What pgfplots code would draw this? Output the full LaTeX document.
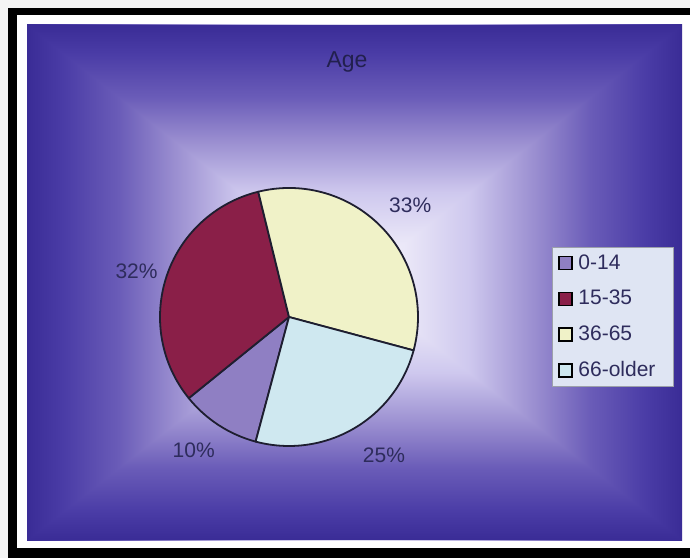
\documentclass[border=0pt]{standalone}
\usepackage{fontspec}
\setmainfont{Liberation Sans}
\usepackage{pgfplots}
\pgfplotsset{compat=1.18}
\definecolor{pagebg}{HTML}{F4F4F4}
\definecolor{g0}{HTML}{3A2C96}
\definecolor{g1}{HTML}{4A3CA6}
\definecolor{g2}{HTML}{6A5CB8}
\definecolor{g3}{HTML}{9A8ED0}
\definecolor{g4}{HTML}{CEC8EE}
\definecolor{g5}{HTML}{EBE8F8}
\definecolor{g6}{HTML}{F6F5FC}
\pgfdeclarehorizontalshading{bgH}{100bp}{color(0bp)=(g0); color(25bp)=(g0); color(27.75bp)=(g1); color(32bp)=(g2); color(36.25bp)=(g3); color(41.25bp)=(g4); color(46.25bp)=(g5); color(50bp)=(g6); color(53.75bp)=(g5); color(58.75bp)=(g4); color(63.75bp)=(g3); color(68bp)=(g2); color(72.25bp)=(g1); color(75bp)=(g0); color(100bp)=(g0)}
\pgfdeclareverticalshading{bgV}{100bp}{color(0bp)=(g0); color(25bp)=(g0); color(27.75bp)=(g1); color(32bp)=(g2); color(36.25bp)=(g3); color(41.25bp)=(g4); color(46.25bp)=(g5); color(50bp)=(g6); color(53.75bp)=(g5); color(58.75bp)=(g4); color(63.75bp)=(g3); color(68bp)=(g2); color(72.25bp)=(g1); color(75bp)=(g0); color(100bp)=(g0)}
\definecolor{cA}{HTML}{8F7FC3}
\definecolor{cB}{HTML}{8A1F48}
\definecolor{cC}{HTML}{F0F2C8}
\definecolor{cD}{HTML}{CFE8F0}
\definecolor{legbg}{HTML}{DFE5F3}
\definecolor{labtext}{HTML}{2E2C5C}
\definecolor{titletext}{HTML}{22204E}
\definecolor{pieline}{HTML}{1E1E30}
% data (percent): 0-14, 15-35, 36-65, 66-older
\def\vA{10}\def\vB{32}\def\vC{33}\def\vD{25}%
\def\pcx{289}\def\pcy{241}\def\pR{129}\def\pL{164}%
\pgfmathsetmacro\aA{255}%
\pgfmathsetmacro\aB{\aA-3.6*\vA}%
\pgfmathsetmacro\aC{\aB-3.6*\vB}%
\pgfmathsetmacro\aD{\aC-3.6*\vC}%
\pgfmathsetmacro\aE{\aD-3.6*\vD}%
\pgfmathsetmacro\mA{(\aA+\aB)/2}%
\pgfmathsetmacro\mB{(\aB+\aC)/2}%
\pgfmathsetmacro\mC{(\aC+\aD)/2}%
\pgfmathsetmacro\mD{(\aD+\aE)/2}%
\begin{document}%
\begin{tikzpicture}
\begin{axis}[hide axis, scale only axis, width=345pt, height=279pt,
  xmin=0, xmax=690, ymin=0, ymax=558, clip=false,
  legend style={at={(axis cs:552,311)}, anchor=north west, fill=legbg, draw=legbg!70!black,
    font=\fontsize{10.5}{12}\selectfont, text=labtext, row sep=6pt,
    nodes={inner sep=1.5pt}},
  legend cell align=left,
  legend image code/.code={\draw[#1, draw=black, line width=0.6pt] (0pt,-3.25pt) rectangle (6.5pt,3.25pt); \path (8pt,0pt);}]
% page and frame
\fill[pagebg] (axis cs:0,0) rectangle (axis cs:690,558);
\fill[black] (axis cs:8,543) rectangle (axis cs:690,550);
\fill[black] (axis cs:8,0) rectangle (axis cs:17,550);
\fill[black] (axis cs:8,0) rectangle (axis cs:690,10);
\fill[white] (axis cs:17,10) rectangle (axis cs:690,543);
% background gradient from centre
\shade[shading=bgH] (axis cs:27,18) rectangle (axis cs:682,533);
\begin{scope}
\clip (axis cs:27,533) -- (axis cs:682,533) -- (axis cs:354.5,275.5) -- cycle
      (axis cs:27,18) -- (axis cs:682,18) -- (axis cs:354.5,275.5) -- cycle;
\shade[shading=bgV] (axis cs:27,18) rectangle (axis cs:682,533);
\end{scope}
% title
\node[font=\fontsize{11.5}{13}\selectfont, text=titletext] at (axis cs:347,496) {Age};
% pie
\filldraw[fill=cA, draw=pieline, line width=0.9pt, line join=round] (axis cs:\pcx,\pcy) -- (axis cs:{\pcx+\pR*cos(\aA)},{\pcy+\pR*sin(\aA)}) arc[start angle=\aA, end angle=\aB, radius=\pR] -- cycle;
\filldraw[fill=cB, draw=pieline, line width=0.9pt, line join=round] (axis cs:\pcx,\pcy) -- (axis cs:{\pcx+\pR*cos(\aB)},{\pcy+\pR*sin(\aB)}) arc[start angle=\aB, end angle=\aC, radius=\pR] -- cycle;
\filldraw[fill=cC, draw=pieline, line width=0.9pt, line join=round] (axis cs:\pcx,\pcy) -- (axis cs:{\pcx+\pR*cos(\aC)},{\pcy+\pR*sin(\aC)}) arc[start angle=\aC, end angle=\aD, radius=\pR] -- cycle;
\filldraw[fill=cD, draw=pieline, line width=0.9pt, line join=round] (axis cs:\pcx,\pcy) -- (axis cs:{\pcx+\pR*cos(\aD)},{\pcy+\pR*sin(\aD)}) arc[start angle=\aD, end angle=\aE, radius=\pR] -- cycle;
% data labels
\node[font=\fontsize{10.5}{12}\selectfont, text=labtext, xshift=-3pt, yshift=2pt] at (axis cs:{\pcx+\pL*cos(\mA)},{\pcy+\pL*sin(\mA)}) {\vA\%};
\node[font=\fontsize{10.5}{12}\selectfont, text=labtext, xshift=1.5pt, yshift=-3.5pt] at (axis cs:{\pcx+\pL*cos(\mB)},{\pcy+\pL*sin(\mB)}) {\vB\%};
\node[font=\fontsize{10.5}{12}\selectfont, text=labtext, xshift=2pt, yshift=-1.5pt] at (axis cs:{\pcx+\pL*cos(\mC)},{\pcy+\pL*sin(\mC)}) {\vC\%};
\node[font=\fontsize{10.5}{12}\selectfont, text=labtext, xshift=6.5pt, yshift=2pt] at (axis cs:{\pcx+\pL*cos(\mD)},{\pcy+\pL*sin(\mD)}) {\vD\%};
% legend
\addlegendimage{fill=cA}\addlegendentry[text width=43pt]{0-14}
\addlegendimage{fill=cB}\addlegendentry[text width=43pt]{15-35}
\addlegendimage{fill=cC}\addlegendentry[text width=43pt]{36-65}
\addlegendimage{fill=cD}\addlegendentry[text width=43pt]{66-older}
\end{axis}
\end{tikzpicture}%
\end{document}
